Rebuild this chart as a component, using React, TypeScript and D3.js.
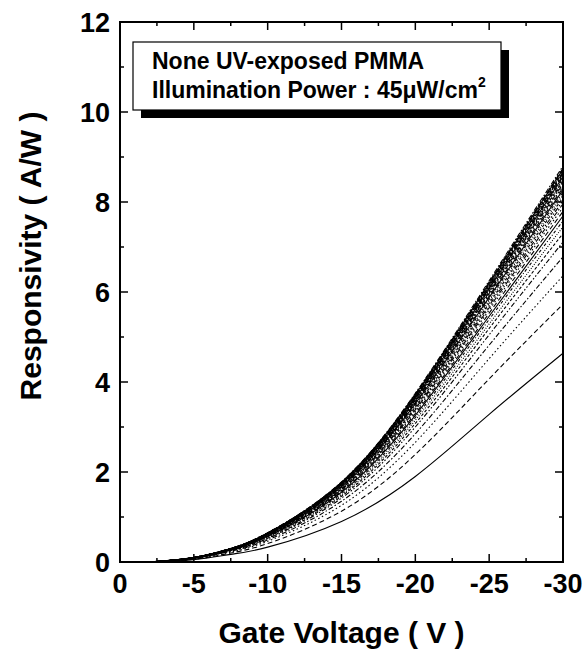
import React from "react";
import * as d3 from "d3";

const voltages = [-2, -5, -7.5, -10, -15, -20, -25, -30];

const curves: number[][] = [
  [0, 0.05, 0.17, 0.33, 0.90, 1.90, 3.28, 4.64],
  [0, 0.06, 0.20, 0.41, 1.13, 2.39, 4.07, 5.73],
  [0, 0.07, 0.22, 0.46, 1.26, 2.66, 4.52, 6.36],
  [0, 0.08, 0.24, 0.49, 1.35, 2.85, 4.82, 6.78],
  [0, 0.08, 0.25, 0.52, 1.42, 3.00, 5.05, 7.11],
  [0, 0.08, 0.25, 0.53, 1.46, 3.08, 5.19, 7.30],
  [0, 0.08, 0.26, 0.55, 1.49, 3.15, 5.29, 7.45],
  [0, 0.09, 0.26, 0.56, 1.52, 3.21, 5.39, 7.58],
  [0, 0.09, 0.27, 0.57, 1.55, 3.26, 5.46, 7.69],
  [0, 0.09, 0.27, 0.57, 1.57, 3.30, 5.53, 7.79],
  [0, 0.09, 0.27, 0.58, 1.59, 3.34, 5.60, 7.88],
  [0, 0.09, 0.27, 0.59, 1.60, 3.38, 5.65, 7.96],
  [0, 0.09, 0.28, 0.59, 1.62, 3.41, 5.70, 8.03],
  [0, 0.09, 0.28, 0.60, 1.63, 3.44, 5.75, 8.10],
  [0, 0.09, 0.28, 0.60, 1.64, 3.47, 5.80, 8.16],
  [0, 0.09, 0.28, 0.61, 1.66, 3.49, 5.84, 8.22],
  [0, 0.09, 0.28, 0.61, 1.67, 3.52, 5.88, 8.27],
  [0, 0.09, 0.29, 0.61, 1.68, 3.54, 5.91, 8.32],
  [0, 0.09, 0.29, 0.62, 1.69, 3.55, 5.94, 8.36],
  [0, 0.10, 0.29, 0.62, 1.70, 3.57, 5.97, 8.40],
  [0, 0.10, 0.29, 0.62, 1.70, 3.59, 5.99, 8.44],
  [0, 0.10, 0.29, 0.62, 1.71, 3.60, 6.02, 8.47],
  [0, 0.10, 0.29, 0.63, 1.72, 3.62, 6.04, 8.50],
  [0, 0.10, 0.29, 0.63, 1.72, 3.63, 6.06, 8.53],
  [0, 0.10, 0.29, 0.63, 1.73, 3.64, 6.08, 8.56],
  [0, 0.10, 0.29, 0.63, 1.74, 3.66, 6.10, 8.59],
  [0, 0.10, 0.29, 0.64, 1.74, 3.66, 6.11, 8.61],
  [0, 0.10, 0.30, 0.64, 1.74, 3.67, 6.13, 8.63],
  [0, 0.10, 0.30, 0.64, 1.75, 3.68, 6.14, 8.65],
  [0, 0.10, 0.30, 0.64, 1.75, 3.69, 6.16, 8.67],
  [0, 0.10, 0.30, 0.64, 1.76, 3.70, 6.17, 8.69],
  [0, 0.10, 0.30, 0.64, 1.76, 3.71, 6.19, 8.71],
  [0, 0.10, 0.30, 0.64, 1.77, 3.72, 6.20, 8.73],
  [0, 0.10, 0.30, 0.65, 1.77, 3.73, 6.21, 8.75],
  [0, 0.10, 0.30, 0.65, 1.77, 3.74, 6.23, 8.77],
  [0, 0.10, 0.30, 0.65, 1.78, 3.75, 6.25, 8.80],
];

const dashPatterns = ["", "5,3", "1.5,2.5", "5,2,1.5,2", "5,2,1.5,2,1.5,2", "3,2", "1,1.5", "3,2,1,2"];

const xMajorTicks = [0, -5, -10, -15, -20, -25, -30];
const xMinorTicks = [-2.5, -7.5, -12.5, -17.5, -22.5, -27.5];
const yMajorTicks = [0, 2, 4, 6, 8, 10, 12];
const yMinorTicks = [1, 3, 5, 7, 9, 11];

const legendLine1 = "None UV-exposed PMMA";
const legendLine2 = "Illumination Power : 45\u03bcW/cm";
const legendSup = "2";

export default function App() {
  const W = 587, H = 657;
  const left = 120, right = 563, top = 22, bottom = 562;
  const x = d3.scaleLinear().domain([0, -30]).range([left, right]);
  const y = d3.scaleLinear().domain([0, 12]).range([bottom, top]);
  const line = d3
    .line<number>()
    .x((_, i) => x(voltages[i]))
    .y((d) => y(d))
    .curve(d3.curveNatural);

  const font = "'Liberation Sans', Arial, Helvetica, sans-serif";
  const major = 8, minor = 4;

  return (
    <svg width={W} height={H} style={{ position: "absolute", left: 0, top: 0, background: "#fff" }} fontFamily={font}>
      <rect x={0} y={0} width={W} height={H} fill="#fff" />
      <g fill="none" stroke="#000" strokeWidth={1.1}>
        {curves.map((c, i) => (
          <path key={i} d={line(c) || ""} strokeDasharray={dashPatterns[i % dashPatterns.length]} />
        ))}
      </g>
      <rect x={left} y={top} width={right - left} height={bottom - top} fill="none" stroke="#000" strokeWidth={2} />
      <g stroke="#000" strokeWidth={1.5}>
        {xMajorTicks.map((t) => (
          <g key={"xm" + t}>
            <line x1={x(t)} x2={x(t)} y1={bottom} y2={bottom - major} />
            <line x1={x(t)} x2={x(t)} y1={top} y2={top + major} />
          </g>
        ))}
        {xMinorTicks.map((t) => (
          <g key={"xn" + t}>
            <line x1={x(t)} x2={x(t)} y1={bottom} y2={bottom - minor} />
            <line x1={x(t)} x2={x(t)} y1={top} y2={top + minor} />
          </g>
        ))}
        {yMajorTicks.map((t) => (
          <g key={"ym" + t}>
            <line x1={left} x2={left + major} y1={y(t)} y2={y(t)} />
            <line x1={right} x2={right - major} y1={y(t)} y2={y(t)} />
          </g>
        ))}
        {yMinorTicks.map((t) => (
          <g key={"yn" + t}>
            <line x1={left} x2={left + minor} y1={y(t)} y2={y(t)} />
            <line x1={right} x2={right - minor} y1={y(t)} y2={y(t)} />
          </g>
        ))}
      </g>
      <g fontSize={27} fontWeight="bold" fill="#000">
        {xMajorTicks.map((t) => (
          <text key={"xl" + t} x={x(t)} y={593} textAnchor="middle">
            {t === 0 ? "0" : "-" + Math.abs(t)}
          </text>
        ))}
        {yMajorTicks.map((t) => (
          <text key={"yl" + t} x={left - 10} y={y(t) + 10} textAnchor="end">
            {t}
          </text>
        ))}
      </g>
      <g fontSize={30} fontWeight="bold" fill="#000">
        <text x={(left + right) / 2} y={643} textAnchor="middle">Gate Voltage ( V )</text>
        <text transform={`translate(41, 256) rotate(-90)`} textAnchor="middle">
          Responsivity ( A/W )
        </text>
      </g>
      <rect x={141} y={50} width={368} height={68} fill="#000" />
      <rect x={133} y={42} width={368} height={68} fill="#fff" stroke="#000" strokeWidth={1.2} />
      <g fontSize={23} fontWeight="bold" fill="#000">
        <text x={152} y={69}>{legendLine1}</text>
        <text x={152} y={98}>{legendLine2}</text>
        <text x={478} y={87} fontSize={14}>{legendSup}</text>
      </g>
    </svg>
  );
}
